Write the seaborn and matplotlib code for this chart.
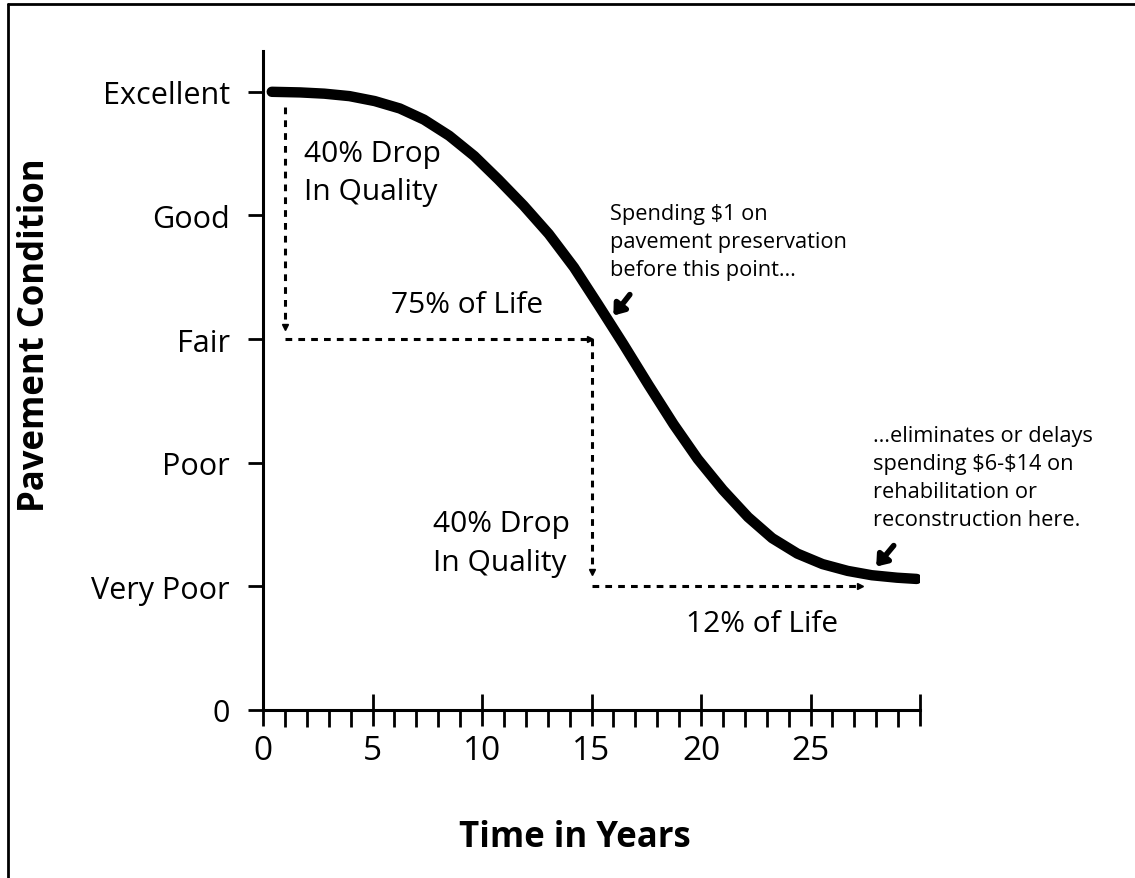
import numpy as np
import pandas as pd
import matplotlib
matplotlib.use("Agg")
import matplotlib.pyplot as plt
from matplotlib.lines import Line2D
import seaborn as sns

# curve (years, condition 0..5)
years = [0.4, 1.7, 2.8, 3.95, 5.1, 6.25, 7.35, 8.5, 9.65, 10.75, 11.9, 13.05,
         14.2, 15.3, 16.45, 17.6, 18.75, 19.85, 21.0, 22.15, 23.25, 24.4,
         25.55, 26.7, 27.8, 28.95, 29.85]
condition = [5.0, 4.995, 4.985, 4.965, 4.925, 4.865, 4.775, 4.645, 4.48, 4.29,
             4.08, 3.85, 3.58, 3.28, 2.96, 2.63, 2.31, 2.03, 1.78, 1.56, 1.39,
             1.265, 1.18, 1.125, 1.09, 1.07, 1.06]

y_ticks = [0, 1, 2, 3, 4, 5]
y_labels = ["0", "Very Poor", "Poor", "Fair", "Good", "Excellent"]
x_ticks = [0, 5, 10, 15, 20, 25, 30]
x_labels = ["0", "5", "10", "15", "20", "25", ""]

df = pd.DataFrame({"years": years, "condition": condition})

sns.set_style("white")
plt.rcParams["font.family"] = ["Open Sans", "DejaVu Sans"]
plt.rcParams["text.color"] = "black"
plt.rcParams["axes.labelcolor"] = "black"
plt.rcParams["xtick.color"] = "black"
plt.rcParams["ytick.color"] = "black"

fig = plt.figure(figsize=(11.35, 8.79), dpi=100)
ax = fig.add_axes([263 / 1135, 168 / 879, (920 - 263) / 1135, (711 - 52) / 879])

sns.lineplot(data=df, x="years", y="condition", ax=ax, color="black",
             linewidth=7.5, solid_capstyle="round", solid_joinstyle="round")

# dashed guide lines
dash = dict(color="black", linewidth=2.2, linestyle=(0, (2.2, 2.0)))
ax.plot([1.0, 1.0], [4.88, 3.12], **dash)
ax.plot([1.0, 14.9], [3.0, 3.0], **dash)
ax.plot([15.0, 15.0], [3.0, 1.14], **dash)
ax.plot([15.0, 27.2], [1.0, 1.0], **dash)
ax.plot([1.0], [3.1], marker="v", color="black", markersize=5)
ax.plot([14.95], [3.0], marker=">", color="black", markersize=5)
ax.plot([15.0], [1.12], marker="v", color="black", markersize=5)
ax.plot([27.25], [1.0], marker=">", color="black", markersize=5)

ax.set_xlim(0, 30)
ax.set_ylim(0, 5.33)
ax.set_xticks(x_ticks)
ax.set_xticklabels(x_labels, fontsize=24)
ax.set_xticks(range(31), minor=True)
ax.set_yticks(y_ticks)
ax.set_yticklabels(y_labels, fontsize=22)

ax.tick_params(axis="x", which="major", direction="inout", length=23, width=2,
               pad=6, color="black", labelcolor="black", bottom=True)
ax.tick_params(axis="x", which="minor", direction="out", length=12, width=2,
               color="black", bottom=True)
ax.tick_params(axis="y", direction="out", length=11, width=2, pad=13,
               color="black", labelcolor="black", left=True)

for side in ["top", "right"]:
    ax.spines[side].set_visible(False)
for side in ["left", "bottom"]:
    ax.spines[side].set_linewidth(2.2)
    ax.spines[side].set_color("black")

ax.set_xlabel("Time in Years", fontsize=25, fontweight="bold", color="black")
ax.xaxis.set_label_coords(0.475, -0.165)
ax.set_ylabel("Pavement Condition", fontsize=25, fontweight="bold", color="black")
ax.yaxis.set_label_coords(-0.32, 0.571)

ax.text(1.85, 4.35, "40% Drop\nIn Quality", fontsize=21.5, va="center",
        linespacing=1.42, color="black")
ax.text(9.3, 3.28, "75% of Life", fontsize=21.5, ha="center", va="center",
        color="black")
ax.text(7.75, 1.35, "40% Drop\nIn Quality", fontsize=21.5, va="center",
        linespacing=1.42, color="black")
ax.text(22.8, 0.7, "12% of Life", fontsize=21.5, ha="center", va="center",
        color="black")

ax.text(15.85, 3.79, "Spending \\$1 on\npavement preservation\nbefore this point\u2026",
        fontsize=15.7, va="center", linespacing=1.42, color="black")
ax.text(27.85, 1.88, "\u2026eliminates or delays\nspending \\$6-\\$14 on\nrehabilitation or\nreconstruction here.",
        fontsize=15.7, va="center", linespacing=1.42, clip_on=False, color="black")

arrow = dict(arrowstyle="-|>,head_length=0.6,head_width=0.45", color="black",
             lw=4, shrinkA=0, shrinkB=0)
ax.annotate("", xy=(16.0, 3.19), xytext=(16.75, 3.36), arrowprops=arrow)
ax.annotate("", xy=(28.0, 1.16), xytext=(28.8, 1.33), arrowprops=arrow,
            annotation_clip=False)

# frame lines along top and left of the image
fig.add_artist(Line2D([8 / 1135, 8 / 1135], [0, 1 - 5 / 879], color="black",
                      linewidth=2, transform=fig.transFigure))
fig.add_artist(Line2D([8 / 1135, 1], [1 - 5 / 879, 1 - 5 / 879], color="black",
                      linewidth=2, transform=fig.transFigure))

fig.savefig("out.png", dpi=100)
